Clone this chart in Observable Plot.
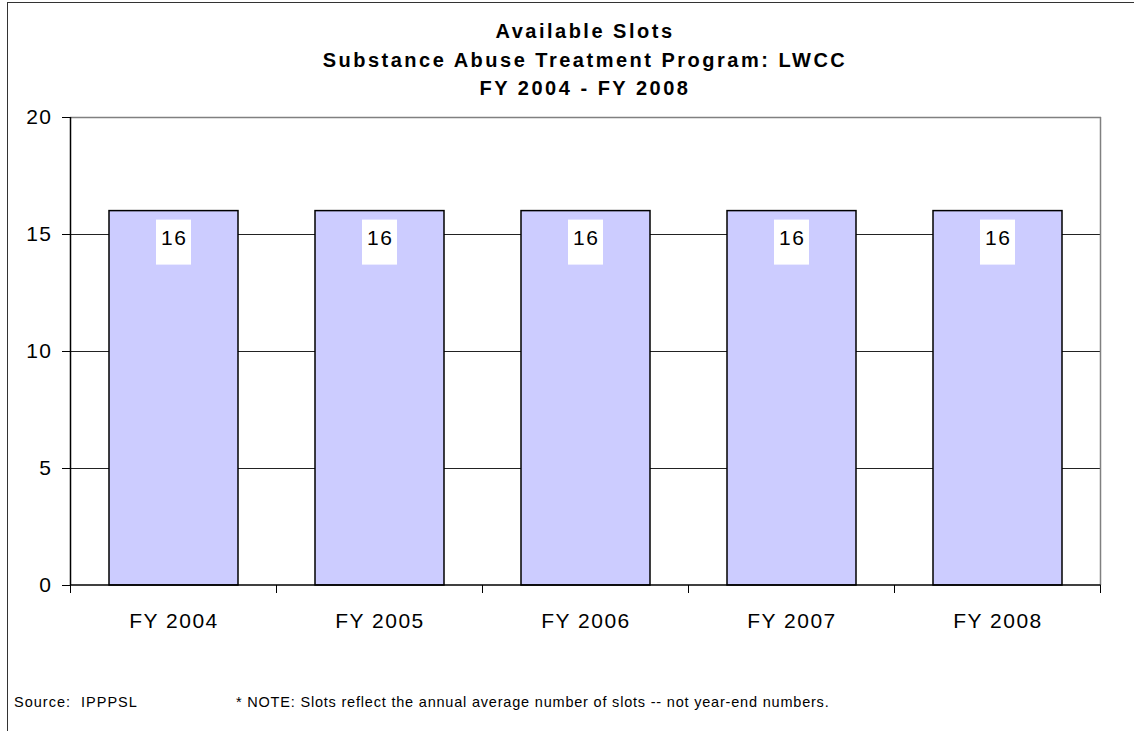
<!DOCTYPE html>
<html>
<head>
<meta charset="utf-8">
<script src="https://cdn.jsdelivr.net/npm/d3@7"></script>
<script src="https://cdn.jsdelivr.net/npm/@observablehq/plot@0.6"></script>
<style>
  html, body { margin: 0; padding: 0; background: #fff; }
  body { width: 1134px; height: 731px; position: relative; overflow: hidden; font-family: "Liberation Sans", Arial, sans-serif; }
  #border { position: absolute; left: 7px; top: 2px; right: -10px; bottom: -10px; border-left: 1.5px solid #333; border-top: 1.5px solid #333; }
  #title { position: absolute; left: 0; top: 17px; width: 1170px; text-align: center; font-weight: bold; font-size: 20px; line-height: 28.5px; letter-spacing: 2.5px; color: #000; }
  #chart { position: absolute; left: 0; top: 100px; }
  .foot { position: absolute; top: 694px; font-size: 14.5px; line-height: 17px; color: #000; letter-spacing: 0.8px; white-space: pre; }
</style>
</head>
<body>
<div id="border"></div>
<div id="title">
  <div>Available Slots</div>
  <div>Substance Abuse Treatment Program: LWCC</div>
  <div>FY 2004 - FY 2008</div>
</div>
<div id="chart"></div>
<div class="foot" style="left:14px; letter-spacing:1px">Source:  IPPPSL</div>
<div class="foot" style="left:236px">* NOTE: Slots reflect the annual average number of slots -- not year-end numbers.</div>
<script>
const categories = ["FY 2004", "FY 2005", "FY 2006", "FY 2007", "FY 2008"];
const slots = [16, 16, 16, 16, 16];
const yTicks = [0, 5, 10, 15, 20];

const data = categories.map((c, i) => ({fy: c, value: slots[i]}));

// custom mark: x-axis ticks at category boundaries, right frame, label boxes
function extras(index, scales, values, dims) {
  const ns = "http://www.w3.org/2000/svg";
  const g = document.createElementNS(ns, "g");
  const x = scales.x, y = scales.y;
  const step = x.step(), bw = x.bandwidth();
  const gap = step - bw;
  const y0 = y(0), yTop = y(20);
  const bounds = categories.map(c => x(c) - gap / 2);
  const rightEdge = x(categories[categories.length - 1]) + bw + gap / 2;
  bounds.push(rightEdge);
  const line = (x1, y1, x2, y2, stroke, sw) => {
    const l = document.createElementNS(ns, "line");
    l.setAttribute("x1", x1); l.setAttribute("x2", x2);
    l.setAttribute("y1", y1); l.setAttribute("y2", y2);
    l.setAttribute("stroke", stroke); l.setAttribute("stroke-width", sw);
    g.appendChild(l);
  };
  line(rightEdge, yTop, rightEdge, y0, "#808080", 1.5);
  line(bounds[0], yTop, bounds[0], y0, "#000", 1.5);
  line(bounds[0], y0, rightEdge, y0, "#000", 1.5);
  for (const b of bounds) line(b, y0, b, y0 + 8, "#000", 1);
  data.forEach(d => {
    const cx = x(d.fy) + bw / 2;
    const top = y(d.value);
    const r = document.createElementNS(ns, "rect");
    r.setAttribute("x", cx - 17.5); r.setAttribute("y", top + 9);
    r.setAttribute("width", 35); r.setAttribute("height", 45);
    r.setAttribute("fill", "#fff");
    g.appendChild(r);
    const t = document.createElementNS(ns, "text");
    t.setAttribute("x", cx + 0.7); t.setAttribute("y", top + 34);
    t.setAttribute("text-anchor", "middle");
    t.setAttribute("font-size", "21px"); t.setAttribute("fill", "#000");
    t.textContent = String(d.value);
    g.appendChild(t);
  });
  return g;
}

const plot = Plot.plot({
  width: 1134,
  height: 540,
  marginLeft: 70,
  marginRight: 33,
  marginTop: 17,
  marginBottom: 55,
  style: {fontFamily: "'Liberation Sans', Arial, sans-serif", fontSize: "21px", letterSpacing: "1.5px", color: "#000", background: "transparent", overflow: "visible"},
  x: {domain: categories, paddingInner: 0.376, paddingOuter: 0.188, label: null},
  y: {domain: [0, 20], ticks: yTicks, label: null},
  marks: [
    Plot.ruleY([5, 10, 15], {stroke: "#222", strokeWidth: 1}),
    Plot.ruleY([20], {stroke: "#808080", strokeWidth: 1.5}),
    Plot.barY(data, {x: "fy", y: "value", fill: "#ccccff", stroke: "#000", strokeWidth: 1.5}),
    Plot.axisY({ticks: yTicks, tickSize: 8, tickPadding: 10, stroke: "#000", fontSize: "21px"}),
    Plot.axisX({tickSize: 0, tickPadding: 28, fontSize: "21px"}),
    extras
  ]
});
document.getElementById("chart").appendChild(plot);
</script>
</body>
</html>
